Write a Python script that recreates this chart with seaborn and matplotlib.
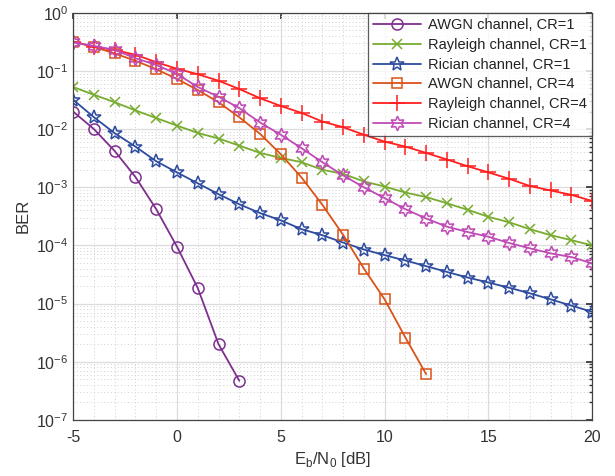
import numpy as np
import pandas as pd
import matplotlib
matplotlib.use("Agg")
import matplotlib.pyplot as plt
import seaborn as sns
from matplotlib.ticker import NullFormatter, FixedLocator, LogFormatterSciNotation

sns.set_theme(style="white")
plt.rcParams['font.family'] = ['Liberation Sans', 'DejaVu Sans']

snr_awgn1 = [-5, -4, -3, -2, -1, 0, 1, 2, 3]
ber_awgn1 = [0.020, 0.010, 4.2e-3, 1.5e-3, 4.2e-4, 9.5e-5, 1.85e-5, 2.0e-6, 4.7e-7]

snr_full = list(range(-5, 21))
ber_ray1 = [0.053, 0.039, 0.029, 0.021, 0.0155, 0.0115, 0.0086, 0.0069, 0.0052, 0.0039,
            0.0032, 0.0027, 0.0020, 0.0017, 0.00126, 0.00103, 0.00081, 0.00068, 0.00053,
            0.00041, 0.00031, 0.00025, 0.00019, 0.00015, 0.000123, 0.0001]
ber_ric1 = [0.032, 0.016, 0.0085, 0.005, 0.0028, 0.0018, 0.00117, 0.00076, 0.00051, 0.00036,
            0.00027, 0.00019, 0.00015, 0.000112, 8.5e-5, 6.8e-5, 5.5e-5, 4.4e-5, 3.5e-5,
            2.8e-5, 2.3e-5, 1.87e-5, 1.5e-5, 1.18e-5, 9.2e-6, 7.2e-6]

snr_awgn4 = list(range(-5, 13))
ber_awgn4 = [0.32, 0.26, 0.20, 0.15, 0.107, 0.073, 0.047, 0.029, 0.016, 0.0083, 0.0037,
             0.00147, 0.0005, 0.000152, 4.0e-5, 1.18e-5, 2.6e-6, 6.1e-7]
ber_ray4 = [0.32, 0.26, 0.23, 0.19, 0.142, 0.109, 0.088, 0.068, 0.049, 0.034, 0.025, 0.019,
            0.0135, 0.0108, 0.0080, 0.0061, 0.0050, 0.0039, 0.0030, 0.0023, 0.0018, 0.0014,
            0.00105, 0.00088, 0.00074, 0.00058]
ber_ric4 = [0.31, 0.27, 0.23, 0.166, 0.127, 0.089, 0.053, 0.036, 0.023, 0.013, 0.0080,
            0.0047, 0.0027, 0.0016, 0.001, 0.00065, 0.00042, 0.00029, 0.00021, 0.00017,
            0.000141, 0.00011, 8.9e-5, 7.3e-5, 6.3e-5, 4.9e-5]

labels = ["AWGN channel, CR=1", "Rayleigh channel, CR=1", "Rician channel, CR=1",
          "AWGN channel, CR=4", "Rayleigh channel, CR=4", "Rician channel, CR=4"]

x_ticks = [-5, 0, 5, 10, 15, 20]
y_decades = list(range(-7, 1))

series = [
    (snr_awgn1, ber_awgn1, labels[0], "#7E2F8E", "o", 8),
    (snr_full, ber_ray1, labels[1], "#77AC30", "x", 6.5),
    (snr_full, ber_ric1, labels[2], "#2E4C9F", "*", 10.5),
    (snr_awgn4, ber_awgn4, labels[3], "#D95319", "s", 7.5),
    (snr_full, ber_ray4, labels[4], "#FF1F1F", "+", 11),
    (snr_full, ber_ric4, labels[5], "#C04BB6", (6, 1, 0), 10.5),
]

fig = plt.figure(figsize=(6.15, 4.76), dpi=100)
ax = fig.add_axes([0.119, 0.118, 0.844, 0.855])

for x, y, lab, col, mk, ms in series:
    df = pd.DataFrame({"x": x, "y": y})
    filled = mk in ("x", "+")
    sns.lineplot(data=df, x="x", y="y", ax=ax, color=col, marker=mk, markersize=ms,
                 markerfacecolor=col if filled else "none", markeredgecolor=col,
                 markeredgewidth=1.1, linewidth=1.3, label=lab)

ax.set_yscale("log")
ax.set_xlim(-5, 20)
ax.set_ylim(1e-7, 1)
ax.set_xticks(x_ticks)
ax.set_xticklabels([str(v) for v in x_ticks])
ax.xaxis.set_minor_locator(FixedLocator(list(range(-5, 21))))
ax.xaxis.set_minor_formatter(NullFormatter())
major_y = [10.0 ** d for d in y_decades]
minor_y = [m * 10.0 ** d for d in y_decades[:-1] for m in range(2, 10)]
ax.yaxis.set_major_locator(FixedLocator(major_y))
ax.yaxis.set_major_formatter(LogFormatterSciNotation(base=10))
ax.yaxis.set_minor_locator(FixedLocator(minor_y))
ax.yaxis.set_minor_formatter(NullFormatter())
ax.xaxis.offsetText.set_visible(False)
ax.yaxis.offsetText.set_visible(False)

ax.grid(True, which="major", color="#DCDCDC", linewidth=0.9, linestyle="-")
ax.grid(True, which="minor", color="#D0D0D0", linewidth=0.7, linestyle=(0, (1, 2.5)))
ax.set_axisbelow(True)

for s in ax.spines.values():
    s.set_color("#444444")
    s.set_linewidth(0.9)
ax.tick_params(which="both", direction="in", top=True, right=True, colors="#333333",
               labelsize=11.5, labelcolor="#333333")
ax.tick_params(which="major", length=4)
ax.tick_params(which="minor", length=2)
ax.tick_params(axis="x", which="minor", length=0)
ax.tick_params(axis="x", which="major", pad=7)

ax.set_xlabel(r"E$_\mathregular{b}$/N$_\mathregular{0}$ [dB]", fontsize=12, color="#333333",
              labelpad=4)
ax.set_ylabel("BER", fontsize=12, color="#333333")

leg = ax.legend(loc="upper right", fontsize=10.5, frameon=True, fancybox=False,
                borderaxespad=0, handlelength=3.3, labelspacing=0.4, borderpad=0.35,
                handletextpad=0.5)
leg.get_frame().set_edgecolor("#333333")
leg.get_frame().set_linewidth(0.9)
for t in leg.get_texts():
    t.set_color("#222222")

fig.savefig("out.png", dpi=100)
